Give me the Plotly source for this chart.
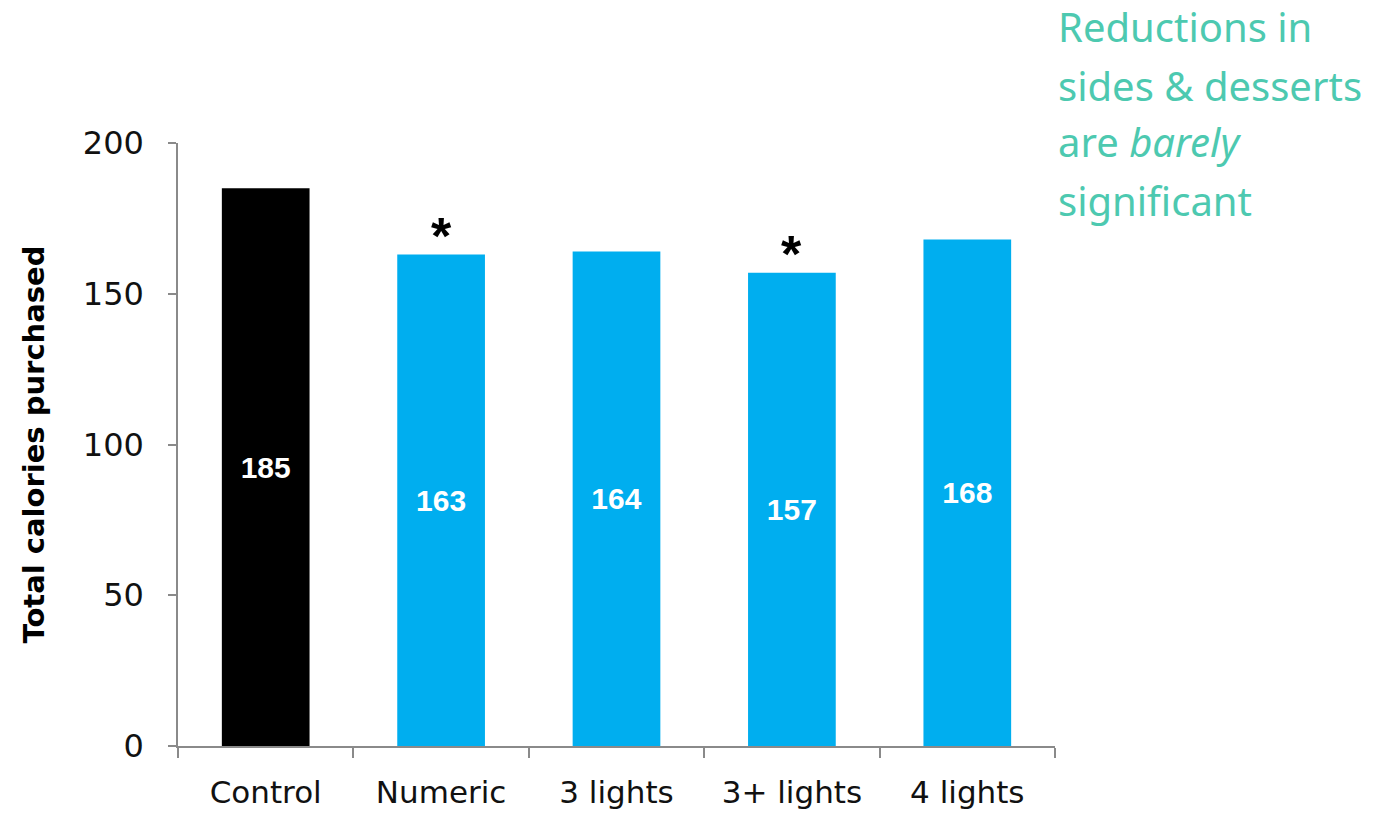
import plotly.graph_objects as go

categories = ["Control", "Numeric", "3 lights", "3+ lights", "4 lights"]
calories = [185, 163, 164, 157, 168]
significant = [False, True, False, True, False]
bar_colors = ["#000000", "#00AEEF", "#00AEEF", "#00AEEF", "#00AEEF"]
y_ticks = [0, 50, 100, 150, 200]
note_lines = ["Reductions in", "sides &amp; desserts", "are <i>barely</i>", "significant"]

AXIS_COLOR = "#8a8a8a"
TEAL = "#4DC9B0"

fig = go.Figure()
fig.add_trace(go.Bar(
    x=categories,
    y=calories,
    marker=dict(color=bar_colors, line=dict(width=0)),
    text=[str(v) for v in calories],
    textposition="inside",
    insidetextanchor="middle",
    textangle=0,
    textfont=dict(family="Liberation Sans, Arial, sans-serif", size=30, color="white", weight="bold"),
    hoverinfo="skip",
))

# significance asterisks
for cat, val, sig in zip(categories, calories, significant):
    if sig:
        fig.add_annotation(
            x=cat, y=val, xref="x", yref="y",
            text="<b>*</b>", showarrow=False,
            yanchor="bottom", yshift=-12,
            font=dict(family="Liberation Sans, Arial, sans-serif", size=52, color="#000000"),
        )

# side note
plot_top, plot_bottom = 143, 746
line_centers_px = [27, 85, 142, 200]
for line, ypx in zip(note_lines, line_centers_px):
    fig.add_annotation(
        x=1.0, y=(plot_bottom - ypx) / (plot_bottom - plot_top),
        xref="paper", yref="paper",
        xanchor="left", yanchor="middle",
        xshift=1,
        text=line, showarrow=False,
        font=dict(family="Noto Sans, Open Sans, sans-serif", size=40, color=TEAL),
    )

fig.update_layout(
    width=1385, height=813,
    margin=dict(l=178, r=330, t=143, b=67, autoexpand=False),
    paper_bgcolor="white", plot_bgcolor="white",
    showlegend=False,
    bargap=0.5,
    xaxis=dict(
        automargin=False,
        showline=True, linecolor=AXIS_COLOR, linewidth=1.5,
        ticks="outside", tickson="boundaries", ticklen=10, tickwidth=1.5, tickcolor=AXIS_COLOR,
        tickfont=dict(family="DejaVu Sans, sans-serif", size=31, color="#111111"),
        ticklabelstandoff=18,
        showgrid=False, zeroline=False,
    ),
    yaxis=dict(
        automargin=False,
        range=[0, 200], tickvals=y_ticks,
        showline=True, linecolor=AXIS_COLOR, linewidth=1.5,
        ticks="outside", ticklen=8, tickwidth=1.5, tickcolor=AXIS_COLOR,
        tickfont=dict(family="DejaVu Sans, sans-serif", size=32, color="#111111"),
        ticklabelstandoff=18,
        showgrid=False, zeroline=False,
        title=dict(
            text="<b>Total calories purchased</b>",
            font=dict(family="DejaVu Sans, sans-serif", size=29, color="#000000"),
            standoff=30,
        ),
    ),
)

fig.write_html("out.html")
